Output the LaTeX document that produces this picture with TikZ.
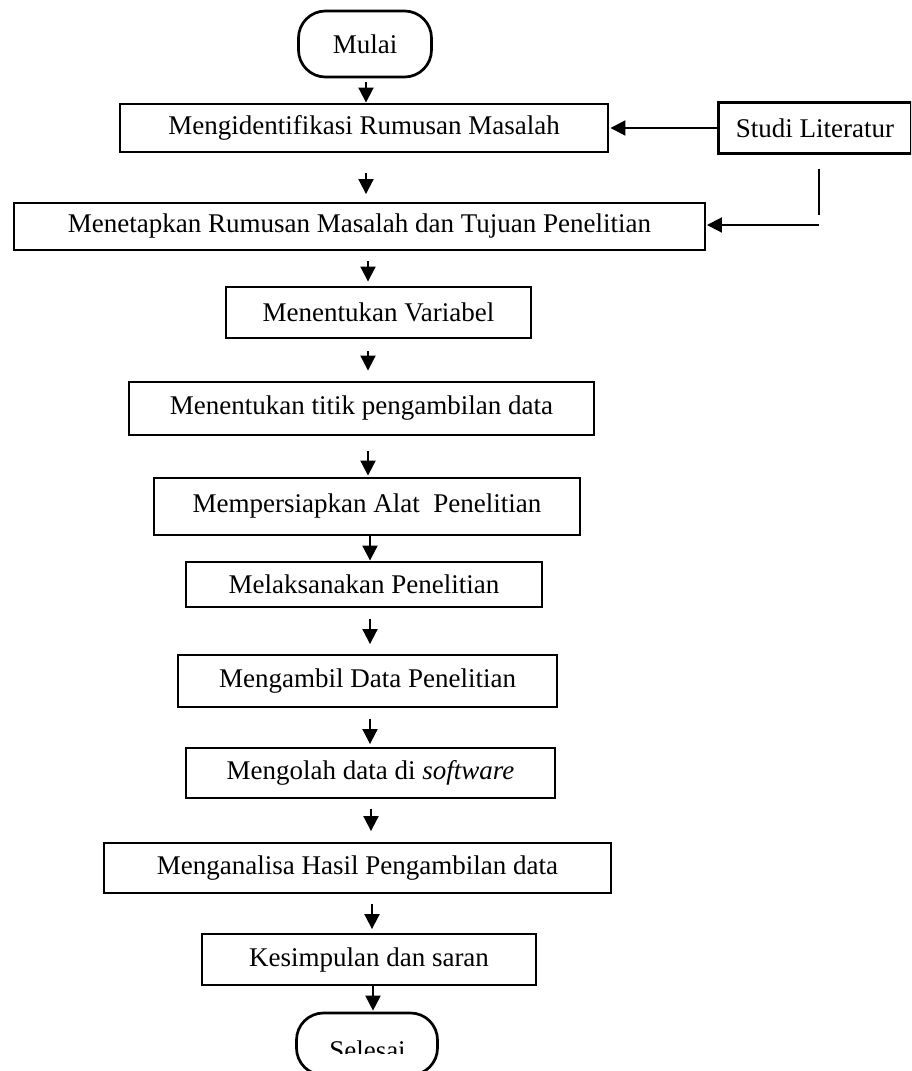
\documentclass[tikz,border=0pt]{standalone}
\usepackage{fontspec}
\setmainfont{Liberation Serif}
\usetikzlibrary{arrows.meta,calc}
\tikzset{
  boxthick/.style={draw, line width=2.9pt, inner sep=0pt, font=\fontsize{27}{30}\selectfont},
  boxthin/.style={draw, line width=1.9pt, inner sep=0pt, font=\fontsize{27}{30}\selectfont},
  term/.style={draw, line width=2.7pt, rounded corners=27pt, inner sep=0pt, font=\fontsize{27}{30}\selectfont},
  flow/.style={line width=2pt, -{Triangle[length=15pt,width=15pt]}},
  plainline/.style={line width=2pt},
  lbl/.style={inner sep=0pt, font=\fontsize{27}{30}\selectfont},
}
\begin{document}
\begin{tikzpicture}[x=1pt,y=-1pt]
\useasboundingbox (0,0) rectangle (911,1071);
\clip (0,0) rectangle (911,1071);
% nodes
\node[term, minimum width=133pt, minimum height=66pt] (mulai) at (365,44) {Mulai};
\node[boxthick, minimum width=488pt, minimum height=48pt] (b1) at (364,128) {Mengidentifikasi Rumusan Masalah};
\node[boxthick, minimum width=193pt, minimum height=51pt] (studi) at (815,128) {Studi Literatur};
\node[boxthin, minimum width=691pt, minimum height=47pt] (b2) at (359.5,226.5) {Menetapkan Rumusan Masalah dan Tujuan Penelitian};
\node[boxthick, minimum width=305pt, minimum height=51pt] (b3) at (378.5,312.5) {Menentukan Variabel};
\node[boxthick, minimum width=465pt, minimum height=53pt] (b4) at (361.5,408.5) {Menentukan titik pengambilan data};
\node[boxthick, minimum width=426pt, minimum height=57pt] (b5) at (367,506.5) {Mempersiapkan Alat\ \ Penelitian};
\node[boxthick, minimum width=356pt, minimum height=45pt] (b6) at (364,584.5) {\raisebox{-4pt}{Melaksanakan Penelitian}};
\node[boxthin, minimum width=379pt, minimum height=52pt] (b7) at (367.5,681) {Mengambil Data Penelitian};
\node[boxthin, minimum width=369pt, minimum height=50pt] (b8) at (370.5,773) {Mengolah data di \textit{software}};
\node[boxthin, minimum width=507pt, minimum height=50pt] (b9) at (357.5,868) {Menganalisa Hasil Pengambilan data};
\node[boxthin, minimum width=334pt, minimum height=51pt] (b10) at (369,959.5) {Kesimpulan dan saran};
\node[term, minimum width=141pt, minimum height=62pt] (selesai) at (367,1044) {};
\begin{scope}
  \clip (290,1000) rectangle (450,1053);
  \node[lbl, anchor=base] (selesaitext) at (367.5,1059) {Selesai};
\end{scope}
% arrow x positions
\coordinate (x1) at (366,0);
\coordinate (x2) at (366,0);
\coordinate (x3) at (368,0);
\coordinate (x4) at (368,0);
\coordinate (x5) at (368,0);
\coordinate (x6) at (370,0);
\coordinate (x7) at (370,0);
\coordinate (x8) at (370,0);
\coordinate (x9) at (371,0);
\coordinate (x10) at (372,0);
\coordinate (x11) at (373,0);
\coordinate (vend) at (819,215);
\coordinate (hstart) at (819,225);
% connectors
\draw[flow, shorten <=4pt] (mulai.south -| x1) -- (b1.north -| x1);
\draw[flow, shorten <=20pt, shorten >=8pt] (b1.south -| x2) -- (b2.north -| x2);
\draw[flow, shorten <=10pt, shorten >=4pt] (b2.south -| x3) -- (b3.north -| x3);
\draw[flow, shorten <=12pt, shorten >=10pt] (b3.south -| x4) -- (b4.north -| x4);
\draw[flow, shorten <=15pt, shorten >=1pt] (b4.south -| x5) -- (b5.north -| x5);
\draw[flow] (b5.south -| x6) -- (b6.north -| x6);
\draw[flow, shorten <=11pt, shorten >=10pt] (b6.south -| x7) -- (b7.north -| x7);
\draw[flow, shorten <=11pt, shorten >=3pt] (b7.south -| x8) -- (b8.north -| x8);
\draw[flow, shorten <=10pt, shorten >=11pt] (b8.south -| x9) -- (b9.north -| x9);
\draw[flow, shorten <=10pt, shorten >=4pt] (b9.south -| x10) -- (b10.north -| x10);
\draw[flow, shorten >=1pt] (b10.south -| x11) -- (selesai.north -| x11);
\draw[flow, shorten >=1pt] (studi.west) -- (b1.east);
\draw[plainline, shorten <=14pt] (studi.south -| vend) -- (vend);
\draw[flow, shorten >=1pt] (hstart) -- (b2.east |- hstart);
\end{tikzpicture}
\end{document}
